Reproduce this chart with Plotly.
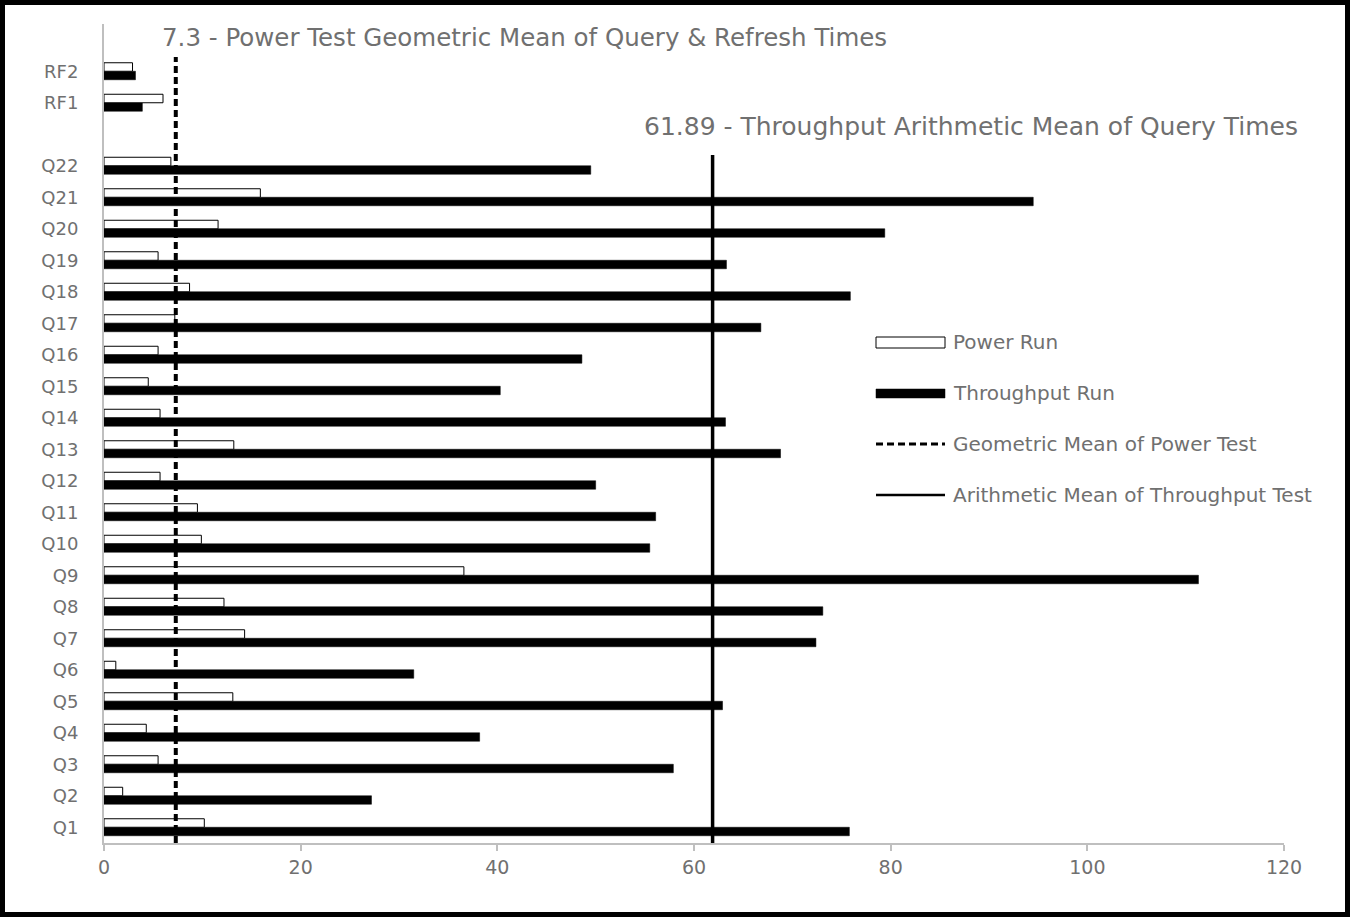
import plotly.graph_objects as go

# ---------------- data ----------------
categories = ["Q1", "Q2", "Q3", "Q4", "Q5", "Q6", "Q7", "Q8", "Q9", "Q10", "Q11",
              "Q12", "Q13", "Q14", "Q15", "Q16", "Q17", "Q18", "Q19", "Q20", "Q21",
              "Q22", "RF1", "RF2"]
power_run = [10.2, 1.9, 5.5, 4.3, 13.1, 1.2, 14.3, 12.2, 36.6, 9.9, 9.5,
             5.7, 13.2, 5.7, 4.5, 5.5, 7.2, 8.7, 5.5, 11.6, 15.9,
             6.8, 6.0, 2.9]
throughput_run = [75.8, 27.2, 57.9, 38.2, 62.9, 31.5, 72.4, 73.1, 111.3, 55.5, 56.1,
                  50.0, 68.8, 63.2, 40.3, 48.6, 66.8, 75.9, 63.3, 79.4, 94.5,
                  49.5, 3.9, 3.2]
# axis slots (bottom to top); empty strings are blank spacer rows
axis_slots = categories[:22] + [""] + categories[22:] + [""]
geo_mean_power = 7.3
arith_mean_throughput = 61.89
x_ticks = [0, 20, 40, 60, 80, 100, 120]
legend_labels = ["Power Run", "Throughput Run", "Geometric Mean of Power Test",
                 "Arithmetic Mean of Throughput Test"]
note_geo = "7.3 - Power Test Geometric Mean of Query & Refresh Times"
note_arith = "61.89 - Throughput Arithmetic Mean of Query Times"

# ---------------- layout helpers ----------------
W, H = 1350, 917
ML, MR, MT, MB = 104, 66, 24, 74
PW, PH = W - ML - MR, H - MT - MB


def px(xp):
    return (xp - ML) / PW


def py(yp):
    return (H - MB - yp) / PH


FONT = "DejaVu Sans"
GRAY = "#707070"

y_pos = [axis_slots.index(c) for c in categories]

fig = go.Figure()
fig.add_trace(go.Bar(
    name="Throughput Run", orientation="h", y=y_pos, x=throughput_run,
    marker=dict(color="black", line=dict(color="black", width=0.5)),
    showlegend=False,
))
fig.add_trace(go.Bar(
    name="Power Run", orientation="h", y=y_pos, x=power_run,
    marker=dict(color="white", line=dict(color="black", width=1)),
    showlegend=False,
))

shapes = []
# mean lines (data coordinates)
shapes.append(dict(type="line", xref="x", yref="y",
                   x0=geo_mean_power, x1=geo_mean_power, y0=-0.5, y1=24.45,
                   line=dict(color="black", width=4, dash="7px,4px")))
shapes.append(dict(type="line", xref="x", yref="y",
                   x0=arith_mean_throughput, x1=arith_mean_throughput, y0=-0.5, y1=21.34,
                   line=dict(color="black", width=3.5)))

# legend (manual)
leg_x0, leg_x1 = 876, 945
leg_y = [342, 393, 444, 495]
shapes.append(dict(type="rect", xref="paper", yref="paper",
                   x0=px(leg_x0), x1=px(leg_x1), y0=py(348), y1=py(337),
                   fillcolor="white", line=dict(color="black", width=1)))
shapes.append(dict(type="rect", xref="paper", yref="paper",
                   x0=px(leg_x0), x1=px(leg_x1), y0=py(398), y1=py(389),
                   fillcolor="black", line=dict(color="black", width=0.5)))
shapes.append(dict(type="line", xref="paper", yref="paper",
                   x0=px(leg_x0), x1=px(leg_x1), y0=py(leg_y[2]), y1=py(leg_y[2]),
                   line=dict(color="black", width=3, dash="7px,4px")))
shapes.append(dict(type="line", xref="paper", yref="paper",
                   x0=px(leg_x0), x1=px(leg_x1), y0=py(leg_y[3]), y1=py(leg_y[3]),
                   line=dict(color="black", width=2.5)))

# outer border
shapes.append(dict(type="rect", xref="paper", yref="paper",
                   x0=px(2.5), x1=px(W - 2.5), y0=py(H - 2.5), y1=py(2.5),
                   line=dict(color="black", width=5), fillcolor="rgba(0,0,0,0)"))

annotations = []
for lbl, yy in zip(legend_labels, leg_y):
    annotations.append(dict(xref="paper", yref="paper", x=px(951), y=py(yy),
                            text=lbl, showarrow=False, xanchor="left", yanchor="middle",
                            font=dict(family=FONT, size=20, color=GRAY)))
annotations.append(dict(xref="paper", yref="paper", x=px(524), y=py(37),
                        text=note_geo, showarrow=False, xanchor="center", yanchor="middle",
                        font=dict(family=FONT, size=24.5, color=GRAY)))
annotations.append(dict(xref="paper", yref="paper", x=px(971), y=py(126),
                        text=note_arith, showarrow=False, xanchor="center", yanchor="middle",
                        font=dict(family=FONT, size=25, color=GRAY)))

fig.update_layout(
    width=W, height=H, autosize=False,
    margin=dict(l=ML, r=MR, t=MT, b=MB, pad=0),
    paper_bgcolor="white", plot_bgcolor="white",
    barmode="group", bargap=0.46, bargroupgap=0,
    showlegend=False,
    shapes=shapes, annotations=annotations,
    xaxis=dict(range=[0, 120], tickvals=x_ticks, showgrid=False, zeroline=False,
               showline=True, linecolor="#bfbfbf", linewidth=1.5,
               ticks="outside", ticklen=6, tickcolor="#bfbfbf", tickwidth=1.5,
               tickfont=dict(family=FONT, size=19, color=GRAY)),
    yaxis=dict(range=[-0.5, len(axis_slots) - 0.5], tickvals=y_pos, ticktext=categories,
               showgrid=False, zeroline=False, showline=True, linecolor="#bfbfbf",
               linewidth=2, ticks="", ticklabelstandoff=20,
               tickfont=dict(family=FONT, size=18, color=GRAY)),
)

fig.write_html("out.html")
